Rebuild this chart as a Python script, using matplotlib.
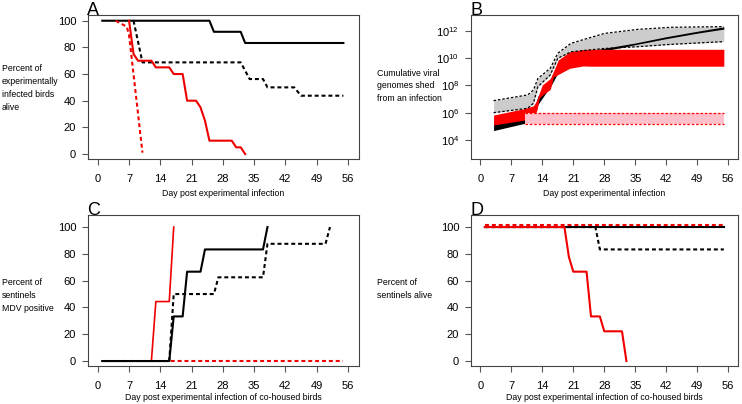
import numpy as np
import matplotlib
matplotlib.use("Agg")
import matplotlib.pyplot as plt
import matplotlib.transforms as mtransforms

plt.rcParams['font.family'] = ['Liberation Sans', 'DejaVu Sans']
plt.rcParams['mathtext.fontset'] = 'custom'
plt.rcParams['mathtext.rm'] = 'Liberation Sans'
plt.rcParams['mathtext.it'] = 'Liberation Sans'

# ---------------- data ----------------
day_ticks = [0, 7, 14, 21, 28, 35, 42, 49, 56]
pct_ticks = [0, 20, 40, 60, 80, 100]

# Panel A: percent of experimentally infected birds alive
a_black_solid_x = [1, 25, 26, 32, 33, 55]
a_black_solid_y = [100, 100, 91.7, 91.7, 83.3, 83.3]
a_black_dash_x = [8, 10, 32, 34, 37, 38, 44, 45.5, 55]
a_black_dash_y = [100, 68.75, 68.75, 56.25, 56.25, 50, 50, 43.75, 43.75]
a_red_solid_x = [7, 8, 9, 12, 13, 16, 17, 19, 20, 22, 23, 24, 25, 30, 31, 32, 33]
a_red_solid_y = [100, 75, 70, 70, 65, 65, 60, 60, 40, 40, 35, 25, 10, 10, 5, 5, 0]
a_red_dash_x = [4, 6.5, 7, 10]
a_red_dash_y = [100, 95.5, 89, 1]

# Panel B: cumulative viral genomes shed (log10)
b_grey_days = [3, 10.7, 12, 13, 15.8, 17.5, 20.5, 28, 35.6, 43, 55]
b_grey_hi = [6.88, 7.3, 7.66, 8.5, 9.25, 10.35, 11.08, 11.8, 12.1, 12.25, 12.3]
b_grey_lo = [6.0, 6.32, 6.69, 7.9, 8.76, 9.98, 10.46, 10.7, 10.83, 11.0, 11.2]
b_black_days = [3, 10, 12, 13, 16, 17.5, 21, 27, 35, 42, 49, 55]
b_black_lo = [4.69, 5.22, 5.5, 6.6, 8.0, 8.9, 9.6, 10.45, 10.98, 11.42, 11.82, 12.12]
b_black_hi = [5.4, 5.9, 6.1, 7.2, 8.5, 9.6, 10.4, 10.66, 11.1, 11.56, 11.96, 12.28]
b_red_days = [3, 10, 12, 12.8, 13.3, 14, 15.8, 16.5, 17.6, 20.2, 23.2, 25, 55]
b_red_hi = [5.83, 6.3, 6.5, 6.93, 7.42, 8.03, 8.5, 9.0, 9.86, 10.46, 10.62, 10.64, 10.64]
b_red_lo = [5.1, 5.46, 5.6, 6.2, 7.05, 7.3, 7.7, 8.6, 8.8, 9.25, 9.42, 9.4, 9.4]
b_pink_days = [10, 55]
b_pink_hi = [6.0, 6.0]
b_pink_lo = [5.15, 5.15]
b_log_ticks = [4, 6, 8, 10, 12]
b_tick_labels = [r'$10^{4}$', r'$10^{6}$', r'$10^{8}$', r'$10^{10}$', r'$10^{12}$']

# Panel C: percent of sentinels MDV positive
c_red_solid_x = [1, 12, 13, 16, 17]
c_red_solid_y = [0, 0, 44.4, 44.4, 100]
c_red_dash_x = [1, 55]
c_red_dash_y = [0, 0]
c_black_solid_x = [1, 16, 17, 19, 20, 23, 24, 37, 38]
c_black_solid_y = [0, 0, 33.3, 33.3, 66.7, 66.7, 83.3, 83.3, 100]
c_black_dash_x = [16, 17, 26, 27, 37, 38, 51, 52]
c_black_dash_y = [0, 50, 50, 62.5, 62.5, 87.5, 87.5, 100]

# Panel D: percent of sentinels alive
d_black_solid_x = [1, 55]
d_black_solid_y = [100, 100]
d_black_dash_x = [1, 26, 27, 55]
d_black_dash_y = [100, 100, 83.3, 83.3]
d_red_solid_x = [1, 19, 20, 21, 24, 25, 27, 28, 32, 33]
d_red_solid_y = [100, 100, 77.8, 66.7, 66.7, 33.3, 33.3, 22.2, 22.2, 0]
d_red_dash_x = [1, 55]
d_red_dash_y = [100, 100]

# ---------------- figure ----------------
W, H = 742, 404
fig = plt.figure(figsize=(W / 100, H / 100), dpi=100)

def ax_at(l, t, r, b):
    return fig.add_axes([l / W, 1 - b / H, (r - l) / W, (b - t) / H])

axA = ax_at(88, 15, 359, 159)
axB = ax_at(471, 15, 738, 159)
axC = ax_at(88, 215, 359, 366)
axD = ax_at(471, 215, 738, 366)

RED = '#ee0000'
DASH = (0, (1.9, 1.4))
LW = 1.5
frame_col = '#444444'

def style(ax):
    for s in ax.spines.values():
        s.set_color(frame_col)
        s.set_linewidth(0.8)
    ax.tick_params(direction='out', length=4.5, width=0.8, color='#555555',
                   labelsize=8, top=False, right=False)
    ax.tick_params(axis='x', pad=6)
    ax.tick_params(axis='y', pad=4)
    ax.set_xticks(day_ticks)
    ax.set_xticklabels([str(d) for d in day_ticks])

# Panel A
axA.plot(a_black_solid_x, a_black_solid_y, color='black', lw=LW)
axA.plot(a_black_dash_x, a_black_dash_y, color='black', lw=LW, linestyle=DASH)
axA.plot(a_red_solid_x, a_red_solid_y, color=RED, lw=LW)
axA.plot(a_red_dash_x, a_red_dash_y, color=RED, lw=LW, linestyle=DASH)
axA.set_xlim(-2.2, 58.5)
axA.set_ylim(-3.75, 104.3)
style(axA)
axA.set_yticks(pct_ticks)

# Panel B
bx = axB
bx.set_yscale('log')
bx.fill_between(b_grey_days, 10 ** np.array(b_grey_lo), 10 ** np.array(b_grey_hi),
                color='#cccccc', lw=0)
bx.fill_between(b_black_days, 10 ** np.array(b_black_lo), 10 ** np.array(b_black_hi),
                color='black', lw=0)
bx.fill_between(b_red_days, 10 ** np.array(b_red_lo), 10 ** np.array(b_red_hi),
                color='#ff0000', lw=0)
bx.fill_between(b_pink_days, 10 ** np.array(b_pink_lo), 10 ** np.array(b_pink_hi),
                color='#ffc0cb', lw=0)
bx.plot(b_grey_days, 10 ** np.array(b_grey_hi), color='black', lw=0.9, linestyle=(0, (2, 1.5)))
bx.plot(b_grey_days, 10 ** np.array(b_grey_lo), color='black', lw=0.9, linestyle=(0, (2, 1.5)))
bx.plot(b_pink_days, 10 ** np.array(b_pink_hi), color='#ff0000', lw=0.9, linestyle=(0, (2, 1.5)))
bx.plot(b_pink_days, 10 ** np.array(b_pink_lo), color='#ff0000', lw=0.9, linestyle=(0, (2, 1.5)))
bx.set_xlim(-2.1, 58.2)
bx.set_ylim(10 ** 2.61, 10 ** 13.15)
style(bx)
bx.set_yticks([10.0 ** k for k in b_log_ticks])
bx.set_yticklabels(b_tick_labels)
bx.yaxis.set_minor_locator(matplotlib.ticker.NullLocator())

# Panel C
axC.plot(c_red_dash_x, c_red_dash_y, color=RED, lw=LW, linestyle=DASH)
axC.plot(c_red_solid_x, c_red_solid_y, color=RED, lw=1.2)
axC.plot(c_black_dash_x, c_black_dash_y, color='black', lw=LW, linestyle=DASH)
axC.plot(c_black_solid_x, c_black_solid_y, color='black', lw=LW)
axC.set_xlim(-2.2, 58.5)
axC.set_ylim(-3.7, 109)
style(axC)
axC.set_yticks(pct_ticks)

# Panel D
axD.plot(d_black_solid_x, d_black_solid_y, color='black', lw=LW)
axD.plot(d_black_dash_x, d_black_dash_y, color='black', lw=LW, linestyle=DASH)
axD.plot(d_red_solid_x, d_red_solid_y, color=RED, lw=LW)
up = mtransforms.offset_copy(axD.transData, fig=fig, x=0, y=1.6, units='points')
axD.plot(d_red_dash_x, d_red_dash_y, color=RED, lw=LW, linestyle=DASH, transform=up)
axD.set_xlim(-2.1, 58.2)
axD.set_ylim(-3.7, 109)
style(axD)
axD.set_yticks(pct_ticks)

# ---------------- texts ----------------
def ftext(x, y, s, **kw):
    fig.text(x / W, 1 - y / H, s, **kw)

lab = dict(fontsize=6.3, ha='left', va='center', linespacing=1.55)
ftext(2, 88, "Percent of\nexperimentally\ninfected birds\nalive", **lab)
ftext(377, 86, "Cumulative viral\ngenomes shed\nfrom an infection", **lab)
ftext(2, 295.3, "Percent of\nsentinels\nMDV positive", **lab)
ftext(377, 288.7, "Percent of\nsentinels alive", **lab)

xl = dict(fontsize=6.3, ha='center', va='center')
ftext(223.5, 193, "Day post experimental infection", **xl)
ftext(604.5, 193, "Day post experimental infection", **xl)
ftext(223.5, 397, "Day post experimental infection of co-housed birds", **xl)
ftext(604.5, 397, "Day post experimental infection of co-housed birds", **xl)

pl = dict(fontsize=13, ha='left', va='baseline')
ftext(87, 15, "A", **pl)
ftext(470, 15, "B", **pl)
ftext(87, 215, "C", **pl)
ftext(470, 215, "D", **pl)

fig.savefig("out.png", dpi=100)
